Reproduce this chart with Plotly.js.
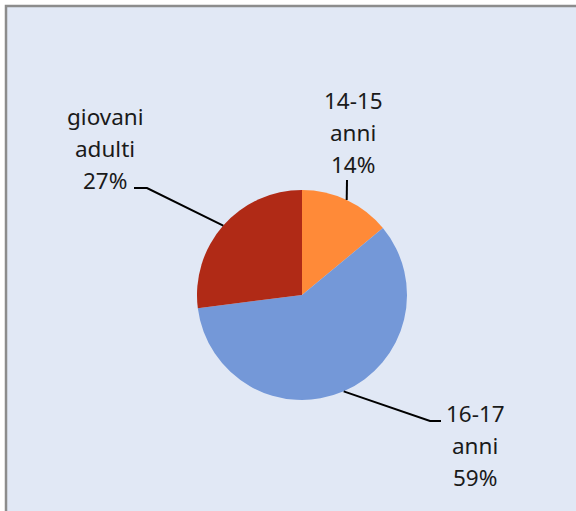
<!DOCTYPE html>
<html>
<head>
<meta charset="utf-8">
<script src="https://cdn.plot.ly/plotly-3.0.1.min.js"></script>
<style>
  html, body { margin: 0; padding: 0; background: #ffffff; }
  #chart { width: 576px; height: 511px; }
</style>
</head>
<body>
<div id="chart"></div>
<script>
// ---- data ----
var categories = ['14-15 anni', '16-17 anni', 'giovani adulti'];
var labelLines = [['14-15', 'anni'], ['16-17', 'anni'], ['giovani', 'adulti']];
var values = [14, 59, 27];
var colors = ['#ff8a38', '#7498d8', '#b02a16'];

// ---- layout constants (pixels) ----
var W = 576, H = 511;
var cx = 302, cy = 295, R = 105;
var fontFam = '"Noto Sans", "Open Sans", sans-serif';
var fontSize = 22.5;
var lineGap = 32;
// label placement: text block centre x, first line centre y; leader elbow and end
var labelPos = [
  {x: 353, y: 100, elbow: [347, 180], end: [347, 180]},
  {x: 475, y: 413, elbow: [430, 421], end: [441, 421]},
  {x: 105, y: 117, elbow: [147, 188], end: [134, 188]}
];

function px(x) { return x / W; }
function py(y) { return 1 - y / H; }

var total = values.reduce(function (a, b) { return a + b; }, 0);
var annotations = [];
var shapes = [];

// background panel with border on top/left
shapes.push({
  type: 'rect', xref: 'paper', yref: 'paper', layer: 'below',
  x0: px(6), x1: px(W + 20), y0: py(6), y1: py(H + 20),
  fillcolor: '#e1e8f5', line: {color: '#8c8c8c', width: 2.5}
});

var cum = 0;
for (var i = 0; i < values.length; i++) {
  var theta = 2 * Math.PI * (cum + values[i] / 2) / total;
  cum += values[i];
  var sx = cx + R * Math.sin(theta);
  var sy = cy - R * Math.cos(theta);
  var lp = labelPos[i];
  shapes.push({
    type: 'path', xref: 'paper', yref: 'paper',
    path: 'M ' + px(sx) + ' ' + py(sy) +
          ' L ' + px(lp.elbow[0]) + ' ' + py(lp.elbow[1]) +
          ' L ' + px(lp.end[0]) + ' ' + py(lp.end[1]),
    line: {color: '#000000', width: 2}
  });
  var pct = Math.round(values[i] / total * 100) + '%';
  var lines = labelLines[i].concat([pct]);
  for (var j = 0; j < lines.length; j++) {
    annotations.push({
      xref: 'paper', yref: 'paper',
      x: px(lp.x), y: py(lp.y + j * lineGap),
      xanchor: 'center', yanchor: 'middle',
      text: lines[j], showarrow: false,
      font: {family: fontFam, size: fontSize, color: '#1a1a1a'}
    });
  }
}

var trace = {
  type: 'pie',
  labels: categories,
  values: values,
  sort: false,
  direction: 'clockwise',
  rotation: 0,
  marker: {colors: colors, line: {width: 0}},
  textinfo: 'none',
  hoverinfo: 'label+percent',
  showlegend: false,
  domain: {x: [px(cx - R), px(cx + R)], y: [py(cy + R), py(cy - R)]}
};

var layout = {
  width: W, height: H,
  margin: {l: 0, r: 0, t: 0, b: 0, pad: 0},
  paper_bgcolor: '#ffffff',
  plot_bgcolor: '#ffffff',
  showlegend: false,
  shapes: shapes,
  annotations: annotations
};

Plotly.newPlot('chart', [trace], layout, {displayModeBar: false, staticPlot: true});
</script>
</body>
</html>
